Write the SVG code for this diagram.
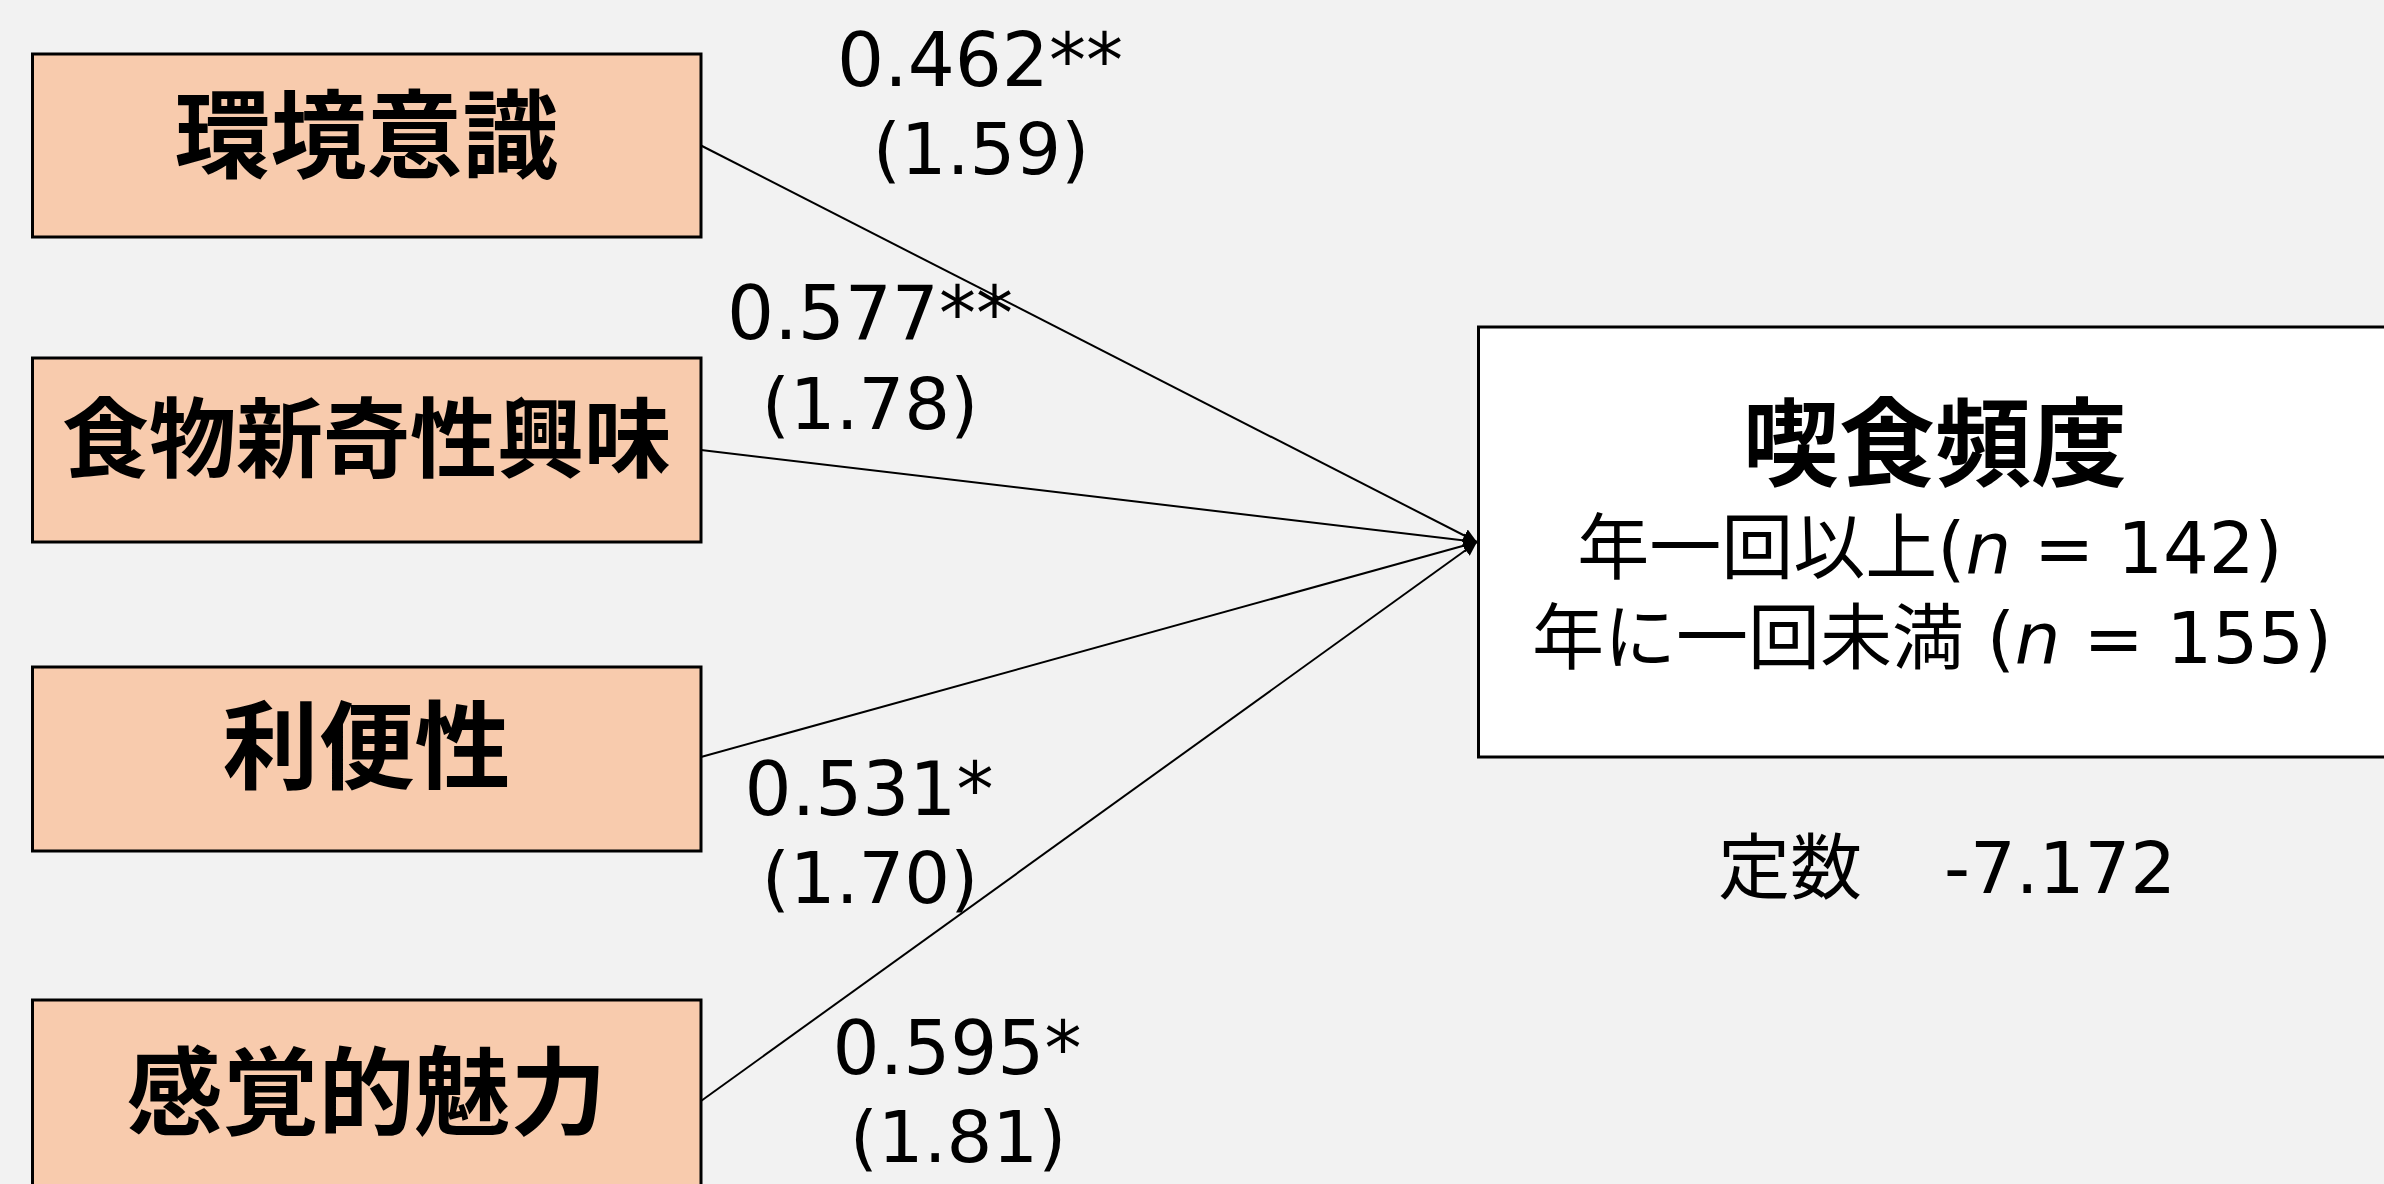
<svg xmlns="http://www.w3.org/2000/svg" width="2384" height="1184" viewBox="0 0 2384 1184">
<defs>
<style>
.bg{fill:#F2F2F2}
.src rect{fill:#F8CBAD;stroke:#000;stroke-width:3}
.tgt rect{fill:#FFFFFF;stroke:#000;stroke-width:3}
.lbl{font-family:"Noto Sans CJK JP",sans-serif;font-weight:bold;fill:#000;text-anchor:middle}
.txt{font-family:"DejaVu Sans","Noto Sans CJK JP",sans-serif;font-size:72px;fill:#000;text-anchor:middle}
.num{font-size:74px}
.edge line{stroke:#000;stroke-width:2;marker-end:url(#arr)}
</style>
<marker id="arr" viewBox="0 0 10 10" refX="10" refY="5" markerWidth="7" markerHeight="7" markerUnits="strokeWidth" orient="auto">
<path d="M0,0 L10,5 L0,10 z" fill="#000"/>
</marker>
</defs>
<rect class="bg" x="0" y="0" width="2384" height="1184"/>
<g id="connectors" class="edge">
<line x1="701" y1="145.5" x2="1477" y2="542"/>
<line x1="701" y1="450" x2="1477" y2="542"/>
<line x1="701" y1="757" x2="1477" y2="542"/>
<line x1="701" y1="1101" x2="1477" y2="542"/>
</g>
<g id="node-kankyo" class="src">
<rect x="32.5" y="54" width="668.5" height="183"/>
<text class="lbl" x="366.5" y="170" font-size="96">環境意識</text>
</g>
<g id="node-shokumotsu" class="src">
<rect x="32.5" y="358" width="668.5" height="184"/>
<text class="lbl" x="366.5" y="471" font-size="87">食物新奇性興味</text>
</g>
<g id="node-ribensei" class="src">
<rect x="32.5" y="667" width="668.5" height="184"/>
<text class="lbl" x="366.5" y="781" font-size="96">利便性</text>
</g>
<g id="node-kankaku" class="src">
<rect x="32.5" y="1000" width="668.5" height="202"/>
<text class="lbl" x="366.5" y="1127" font-size="96">感覚的魅力</text>
</g>
<g id="node-kisshoku" class="tgt">
<rect x="1478.5" y="327" width="920" height="430"/>
<text class="lbl" x="1935" y="478" font-size="96">喫食頻度</text>
<text class="txt" x="1930" y="573">年一回以上(<tspan font-style="italic">n</tspan> = 142)</text>
<text class="txt" x="1932" y="663">年に一回未満 (<tspan font-style="italic">n</tspan> = 155)</text>
</g>
<g id="edge-labels">
<text class="txt num" x="980" y="86">0.462**</text>
<text class="txt" x="981" y="174">(1.59)</text>
<text class="txt num" x="870" y="339">0.577**</text>
<text class="txt" x="870" y="429">(1.78)</text>
<text class="txt num" x="869" y="815">0.531*</text>
<text class="txt" x="870" y="903">(1.70)</text>
<text class="txt num" x="957" y="1074">0.595*</text>
<text class="txt" x="958" y="1162">(1.81)</text>
</g>
<g id="constant">
<text class="txt" x="1718" y="893" style="text-anchor:start">定数　<tspan dx="10">-7.172</tspan></text>
</g>
</svg>
